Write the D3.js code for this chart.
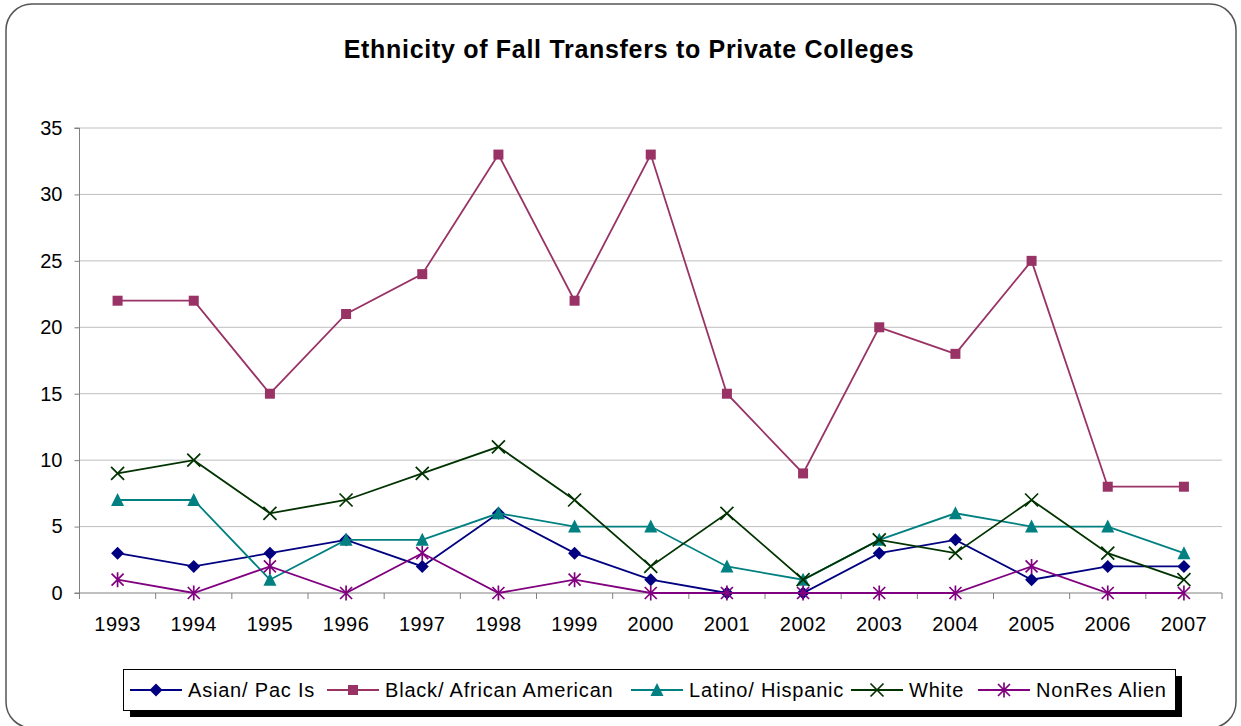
<!DOCTYPE html>
<html><head><meta charset="utf-8">
<script src="https://cdn.jsdelivr.net/npm/d3@7"></script>
<style>body{margin:0;background:#fff}svg{display:block;font-family:"Liberation Sans",Arial,sans-serif}</style>
</head><body><svg id="c" width="1241" height="726"></svg>
<script>
const years = ["1993","1994","1995","1996","1997","1998","1999","2000","2001","2002","2003","2004","2005","2006","2007"];
const asian  = [3,2,3,4,2,6,3,1,0,0,3,4,1,2,2];
const black  = [22,22,15,21,24,33,22,33,15,9,20,18,25,8,8];
const latino = [7,7,1,4,4,6,5,5,2,1,4,6,5,5,3];
const white  = [9,10,6,7,9,11,7,2,6,1,4,3,7,3,1];
const nonres = [1,0,2,0,3,0,1,0,0,0,0,0,2,0,0];
const yTicks = [0,5,10,15,20,25,30,35];
const seriesNames = ["Asian/ Pac Is","Black/ African American","Latino/ Hispanic","White","NonRes Alien"];
const seriesColors = ["#000080","#993366","#008080","#003300","#800080"];
const seriesMarkers = ["diamond","square","triangle","x","star"];
const seriesData = [asian,black,latino,white,nonres];

const svg = d3.select("#c");
svg.append("rect").attr("x",6).attr("y",4).attr("width",1230).attr("height",724)
  .attr("rx",26).attr("ry",26).attr("fill","#fff").attr("stroke","#555").attr("stroke-width",1.5);

svg.append("text").attr("x",629).attr("y",58).attr("text-anchor","middle")
  .attr("font-size",25).attr("font-weight","bold").attr("letter-spacing",0.7)
  .text("Ethnicity of Fall Transfers to Private Colleges");

const L=79.5,R=1222,T=128,B=593;
const x = d3.scaleBand().domain(years).range([L,R]);
const y = d3.scaleLinear().domain([0,35]).range([B,T]);

svg.append("g").selectAll("line").data(yTicks.filter(d=>d>0)).join("line")
  .attr("x1",L).attr("x2",R).attr("y1",d=>y(d)).attr("y2",d=>y(d))
  .attr("stroke","#bfbfbf").attr("stroke-width",1);

const ya = svg.append("g").attr("transform",`translate(${L},0)`)
  .call(d3.axisLeft(y).tickValues(yTicks).tickSize(5).tickPadding(12));
ya.select(".domain").attr("stroke","#808080").attr("d",`M-5,${T}H0V${B}H-5`);
ya.selectAll(".tick line").attr("stroke","#808080");
ya.selectAll("text").attr("font-size",20).attr("font-family","Liberation Sans, Arial, sans-serif").attr("fill","#000");

const xa = svg.append("g").attr("transform",`translate(0,${B})`)
  .call(d3.axisBottom(x).tickSize(0).tickPadding(24));
xa.select(".domain").attr("stroke","#808080").attr("d",`M${L},0H${R}`);
xa.selectAll("text").attr("font-size",20).attr("letter-spacing",0.5).attr("font-family","Liberation Sans, Arial, sans-serif").attr("fill","#000");
svg.append("g").selectAll("line").data(d3.range(years.length+1)).join("line")
  .attr("x1",i=>L+i*x.step()).attr("x2",i=>L+i*x.step()).attr("y1",B).attr("y2",B+6)
  .attr("stroke","#808080");

function marker(g, type, color){
  if(type==="diamond"){
    g.append("path").attr("d","M0,-6.5L6.5,0L0,6.5L-6.5,0Z").attr("fill",color);
  } else if(type==="square"){
    g.append("rect").attr("x",-5).attr("y",-5).attr("width",10).attr("height",10).attr("fill",color);
  } else if(type==="triangle"){
    g.append("path").attr("d","M0,-7L6.5,6L-6.5,6Z").attr("fill",color);
  } else if(type==="x"){
    g.append("path").attr("d","M-6.5,-6.5L6.5,6.5M-6.5,6.5L6.5,-6.5").attr("stroke",color).attr("stroke-width",1.7);
  } else if(type==="star"){
    g.append("path").attr("d","M-6,-6L6,6M-6,6L6,-6M0,-7.5V7.5").attr("stroke",color).attr("stroke-width",1.7);
  }
}

const line = d3.line().x((d,i)=>x(years[i])+x.bandwidth()/2).y(d=>y(d));
[0,1,2,3,4].forEach(s=>{
  const g = svg.append("g");
  g.append("path").datum(seriesData[s]).attr("d",line).attr("fill","none")
    .attr("stroke",seriesColors[s]).attr("stroke-width",1.8);
  seriesData[s].forEach((v,i)=>{
    const mg = g.append("g").attr("transform",`translate(${x(years[i])+x.bandwidth()/2},${y(v)})`);
    marker(mg, seriesMarkers[s], seriesColors[s]);
  });
});

const lg = svg.append("g");
lg.append("rect").attr("x",130).attr("y",676).attr("width",1052).attr("height",41).attr("fill","#000");
lg.append("rect").attr("x",123.5).attr("y",669.5).attr("width",1052).attr("height",41).attr("fill","#fff").attr("stroke","#000").attr("stroke-width",1);
const lx = [130,327,631,851,978];
seriesNames.forEach((n,s)=>{
  const g = lg.append("g").attr("transform",`translate(${lx[s]},690)`);
  g.append("line").attr("x1",0).attr("x2",52).attr("stroke",seriesColors[s]).attr("stroke-width",1.8);
  const mg = g.append("g").attr("transform","translate(26,0)");
  marker(mg, seriesMarkers[s], seriesColors[s]);
  g.append("text").attr("x",58).attr("y",7).attr("font-size",20).attr("letter-spacing",0.8).text(n);
});
</script></body></html>
